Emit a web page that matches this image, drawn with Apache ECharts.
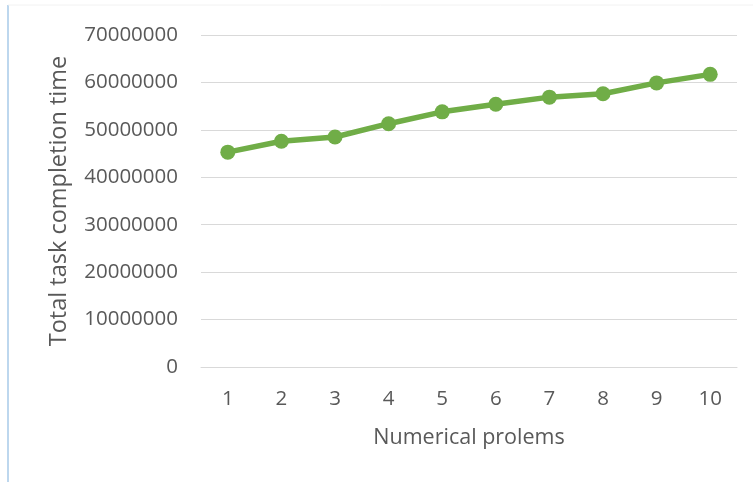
<!DOCTYPE html>
<html>
<head>
<meta charset="utf-8">
<script src="https://cdn.jsdelivr.net/npm/echarts@6/dist/echarts.min.js"></script>
<style>
  html, body { margin: 0; padding: 0; background: #fff; }
  #chart { width: 753px; height: 482px; }
</style>
</head>
<body>
<div id="chart"></div>
<script>
// Problem indices along the x axis
const problems = ['1', '2', '3', '4', '5', '6', '7', '8', '9', '10'];
// Total task completion time for each problem
const completionTime = [45300000, 47600000, 48500000, 51300000, 53800000, 55400000, 56900000, 57600000, 59900000, 61700000];
// Value axis range
const yMin = 0;
const yMax = 70000000;
const yStep = 10000000;

const font = '"Open Sans", "Liberation Sans", sans-serif';
const textColor = '#595959';

const chart = echarts.init(document.getElementById('chart'), null, { renderer: 'canvas' });
chart.setOption({
  animation: false,
  backgroundColor: '#ffffff',
  graphic: [
    { type: 'line', shape: { x1: 8, y1: 5, x2: 8, y2: 482 }, style: { stroke: '#bdd7ee', lineWidth: 2 } },
    { type: 'line', shape: { x1: 8, y1: 5, x2: 753, y2: 5 }, style: { stroke: '#f2f2f2', lineWidth: 1 } }
  ],
  grid: { left: 201, right: 16, top: 35, bottom: 115 },
  xAxis: {
    type: 'category',
    data: problems,
    boundaryGap: true,
    name: 'Numerical prolems',
    nameLocation: 'middle',
    nameGap: 60,
    nameTextStyle: { color: textColor, fontSize: 21.5, fontFamily: font },
    axisLine: { show: true, lineStyle: { color: '#d9d9d9', width: 1 } },
    axisTick: { show: false },
    axisLabel: { color: textColor, fontSize: 20.5, fontFamily: font, margin: 22 }
  },
  yAxis: {
    type: 'value',
    min: yMin,
    max: yMax,
    interval: yStep,
    name: 'Total task completion time',
    nameLocation: 'middle',
    nameGap: 130,
    nameRotate: 90,
    nameTextStyle: { color: textColor, fontSize: 23.5, fontFamily: font },
    axisLine: { show: false },
    axisTick: { show: false },
    axisLabel: {
      color: textColor, fontSize: 20.5, fontFamily: font, margin: 23,
      formatter: (v) => String(v)
    },
    splitLine: { lineStyle: { color: '#d9d9d9', width: 1 } }
  },
  series: [{
    type: 'line',
    data: completionTime,
    symbol: 'circle',
    symbolSize: 15,
    lineStyle: { color: '#70ad47', width: 5.5 },
    itemStyle: { color: '#70ad47' }
  }]
});
</script>
</body>
</html>
